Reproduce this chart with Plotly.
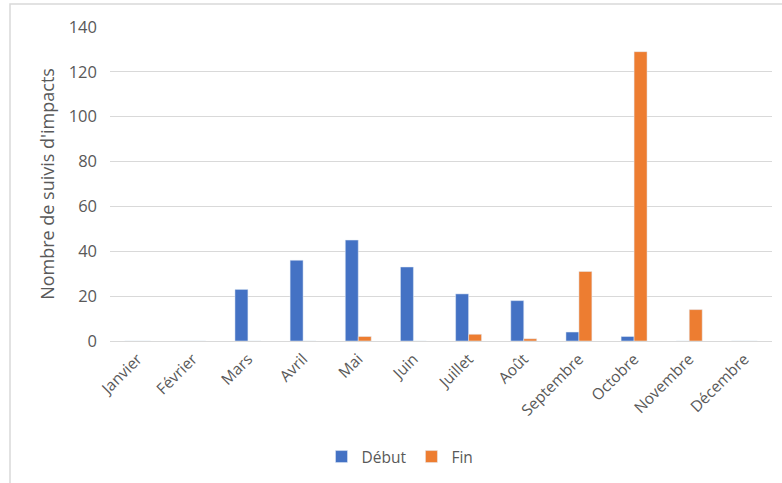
import plotly.graph_objects as go

mois = ["Janvier", "Février", "Mars", "Avril", "Mai", "Juin", "Juillet", "Août",
        "Septembre", "Octobre", "Novembre", "Décembre"]
debut = [0, 0, 23, 36, 45, 33, 21, 18, 4, 2, 0, 0]
fin = [0, 0, 0, 0, 2, 0, 3, 1, 31, 129, 14, 0]

W, H = 782, 483
L, R, T, B = 110, 10, 27, 142
pw, ph = W - L - R, H - T - B

def px_x(x):
    return (x - L) / pw

def px_y(y):
    return (H - B - y) / ph

fig = go.Figure()
fig.add_trace(go.Bar(x=mois, y=debut, name="Début", marker_color="#4472C4"))
fig.add_trace(go.Bar(x=mois, y=fin, name="Fin", marker_color="#ED7D31"))

fam = "Open Sans, Segoe UI, sans-serif"
font = dict(family=fam, color="#595959")

fig.update_layout(
    width=W, height=H,
    margin=dict(l=L, r=R, t=T, b=B, autoexpand=False),
    plot_bgcolor="white", paper_bgcolor="white",
    barmode="group", bargap=0.53, bargroupgap=0,
    font=font,
    showlegend=True,
    legend=dict(orientation="h", x=px_x(400), xanchor="center", y=px_y(457), yanchor="middle",
                font=dict(size=15.5, color="#595959", family=fam),
                itemwidth=30, traceorder="normal"),
    xaxis=dict(tickangle=-45, tickfont=dict(size=15.5, color="#595959", family=fam), showgrid=False,
               showline=False, ticks="", automargin=False, ticklabelstandoff=5),
    yaxis=dict(range=[0, 140], dtick=20, tickfont=dict(size=16.5, color="#595959", family=fam),
               gridcolor="#D9D9D9", gridwidth=1, zeroline=True, zerolinecolor="#D9D9D9",
               zerolinewidth=1, showline=False, ticks="", ticklabelstandoff=12, automargin=False,
               title=dict(text="Nombre de suivis d'impacts", font=dict(size=18, color="#595959", family=fam),
                          standoff=9)),
    shapes=[dict(type="rect", xref="paper", yref="paper",
                 x0=px_x(10), x1=px_x(795), y0=px_y(495), y1=px_y(4),
                 line=dict(color="#D9D9D9", width=1.5), fillcolor="rgba(0,0,0,0)", layer="below")],
)

fig.write_html("out.html", config={"displayModeBar": False},
               post_script="document.body.style.margin='0';")
